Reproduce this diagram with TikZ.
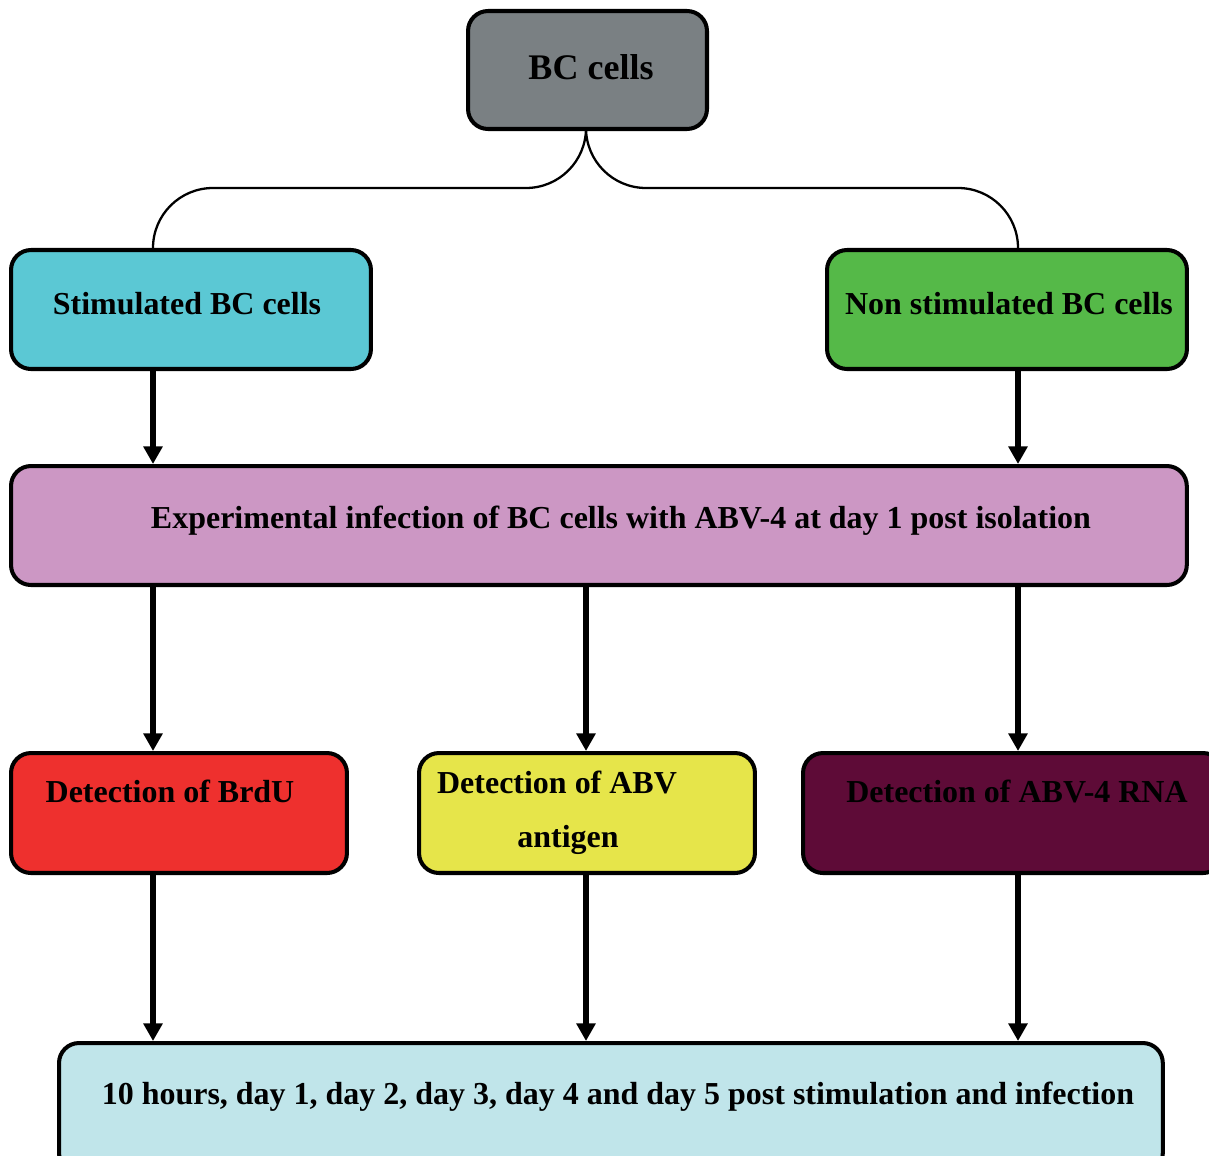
\documentclass[tikz,border=0pt]{standalone}
\usepackage{fontspec}
\setmainfont{Liberation Serif}
\usetikzlibrary{arrows.meta}
\definecolor{bcgray}{HTML}{7A8083}
\definecolor{stimblue}{HTML}{5BC8D4}
\definecolor{nonstimgreen}{HTML}{55B948}
\definecolor{infectpink}{HTML}{CC97C4}
\definecolor{brdured}{HTML}{EE302E}
\definecolor{antigenyellow}{HTML}{E6E54A}
\definecolor{rnamaroon}{HTML}{5E0B37}
\definecolor{timeblue}{HTML}{C0E5EA}
\tikzset{box/.style = {draw, line width=2.3pt, rounded corners=0.4cm, anchor=north west, inner sep=0pt}}
\tikzset{txt/.style = {font=\fontsize{18.2}{22}\selectfont\bfseries, inner sep=0pt}}
\tikzset{link/.style = {line width=3pt, -{Triangle[length=10pt, width=10.5pt]}}}

\begin{document}
\begin{tikzpicture}[x=0.02cm, y=-0.02cm]
    \useasboundingbox (0,0) rectangle (1209,1155);
    \clip (0,0) rectangle (1209,1155);
    \coordinate (colL) at (153,0);
    \coordinate (colM) at (586,0);
    \coordinate (colR) at (1018,0);
    \coordinate (split) at (586,188);
    % boxes
    \node[box, fill=bcgray, minimum width=4.78cm, minimum height=2.36cm] (bc) at (466,9) {};
    \node[box, fill=stimblue, minimum width=7.2cm, minimum height=2.38cm] (stim) at (9,248) {};
    \node[box, fill=nonstimgreen, minimum width=7.2cm, minimum height=2.38cm] (nonstim) at (825,248) {};
    \node[box, fill=infectpink, minimum width=23.52cm, minimum height=2.38cm] (infect) at (9,464) {};
    \node[box, fill=brdured, minimum width=6.72cm, minimum height=2.4cm] (brdu) at (9,751) {};
    \node[box, fill=antigenyellow, minimum width=6.72cm, minimum height=2.4cm] (antigen) at (417,751) {};
    \node[box, fill=rnamaroon, minimum width=8.4cm, minimum height=2.4cm] (rna) at (801,751) {};
    \node[box, fill=timeblue, minimum width=22.08cm, minimum height=2.6cm] (time) at (57,1041) {};
    % texts
    \node[txt, font=\fontsize{20.5}{24}\selectfont\bfseries] (bctxt) at (591,67) {BC cells};
    \node[txt] (stimtxt) at (187,304) {Stimulated BC cells};
    \node[txt] (nonstimtxt) at (1009,304) {Non stimulated BC cells};
    \node[txt] (infecttxt) at (621,521) {Experimental infection of BC cells with ABV-4 at day 1 post isolation};
    \node[txt] (brdutxt) at (170,791) {Detection of BrdU};
    \node[txt] (antigentxt) at (557,782) {Detection of ABV};
    \node[txt] (antigentxtb) at (568,840) {antigen};
    \node[txt] (rnatxt) at (1017,791) {Detection of ABV-4 RNA};
    \node[txt] (timetxt) at (618,1097) {10 hours, day 1, day 2, day 3, day 4 and day 5 post stimulation and infection};
    % connectors
    \draw[line width=1.3pt, rounded corners=1.2cm] (bc.south -| colM) -- (split) -| (stim.north -| colL);
    \draw[line width=1.3pt, rounded corners=1.2cm] (bc.south -| colM) -- (split) -| (nonstim.north -| colR);
    \draw[link] (stim.south -| colL) -- (infect.north -| colL);
    \draw[link] (nonstim.south -| colR) -- (infect.north -| colR);
    \draw[link] (infect.south -| colL) -- (brdu.north -| colL);
    \draw[link] (infect.south -| colM) -- (antigen.north -| colM);
    \draw[link] (infect.south -| colR) -- (rna.north -| colR);
    \draw[link] (brdu.south -| colL) -- (time.north -| colL);
    \draw[link] (antigen.south -| colM) -- (time.north -| colM);
    \draw[link] (rna.south -| colR) -- (time.north -| colR);
\end{tikzpicture}
\end{document}
